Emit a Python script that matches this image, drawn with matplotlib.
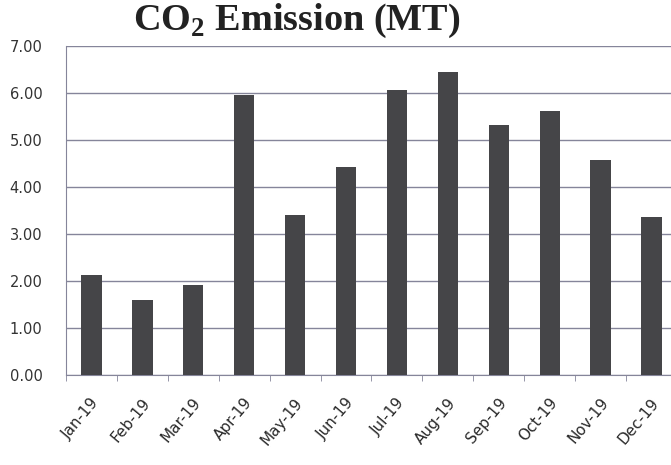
import numpy as np
import matplotlib.pyplot as plt
import matplotlib.transforms as mtransforms

plt.rcParams['mathtext.fontset'] = 'custom'
plt.rcParams['mathtext.rm'] = 'Liberation Serif:bold'
plt.rcParams['mathtext.bf'] = 'Liberation Serif:bold'

months = ['Jan-19', 'Feb-19', 'Mar-19', 'Apr-19', 'May-19', 'Jun-19',
          'Jul-19', 'Aug-19', 'Sep-19', 'Oct-19', 'Nov-19', 'Dec-19']
emission = [2.12, 1.60, 1.91, 5.96, 3.40, 4.43, 6.06, 6.45, 5.32, 5.62, 4.57, 3.36]
yticks = [0, 1, 2, 3, 4, 5, 6, 7]

fig = plt.figure(figsize=(6.71, 4.65), dpi=100)
ax = fig.add_axes([66/671, 90/465, 611/671, 329/465])

x = np.arange(len(months))
ax.bar(x, emission, width=0.4, color='#454548', zorder=3)

ax.set_xlim(-0.5, len(months) - 0.5)
ax.set_ylim(0, 7)
ax.set_yticks(yticks)
ax.set_yticklabels(['%.2f' % v for v in yticks], fontsize=10.5, color='#333333')
ax.yaxis.grid(True, color='#85859a', linewidth=1.0, zorder=0)
ax.tick_params(axis='y', length=0, pad=17)

# category labels under bars, tick marks between categories
ax.set_xticks(x)
ax.set_xticklabels(months, rotation=50, ha='right', va='center',
                   rotation_mode='anchor', fontsize=11, color='#2a2a2a')
ax.tick_params(axis='x', length=0, pad=18)
shift = mtransforms.ScaledTranslation(5/100, 0, fig.dpi_scale_trans)
for lbl in ax.get_xticklabels():
    lbl.set_transform(lbl.get_transform() + shift)
ax.set_xticks(np.arange(-0.5, len(months)), minor=True)
ax.tick_params(axis='x', which='minor', length=4, color='#85859a')

for s in ['top', 'right']:
    ax.spines[s].set_visible(False)
ax.spines['left'].set_color('#85859a')
ax.spines['bottom'].set_color('#85859a')

fig.text(297/671, 1 - 21/465, r'CO$_2$ Emission (MT)', ha='center', va='center',
         fontsize=27.5, fontweight='bold', family='Liberation Serif', color='#222222')

fig.savefig('out.png', dpi=100)
